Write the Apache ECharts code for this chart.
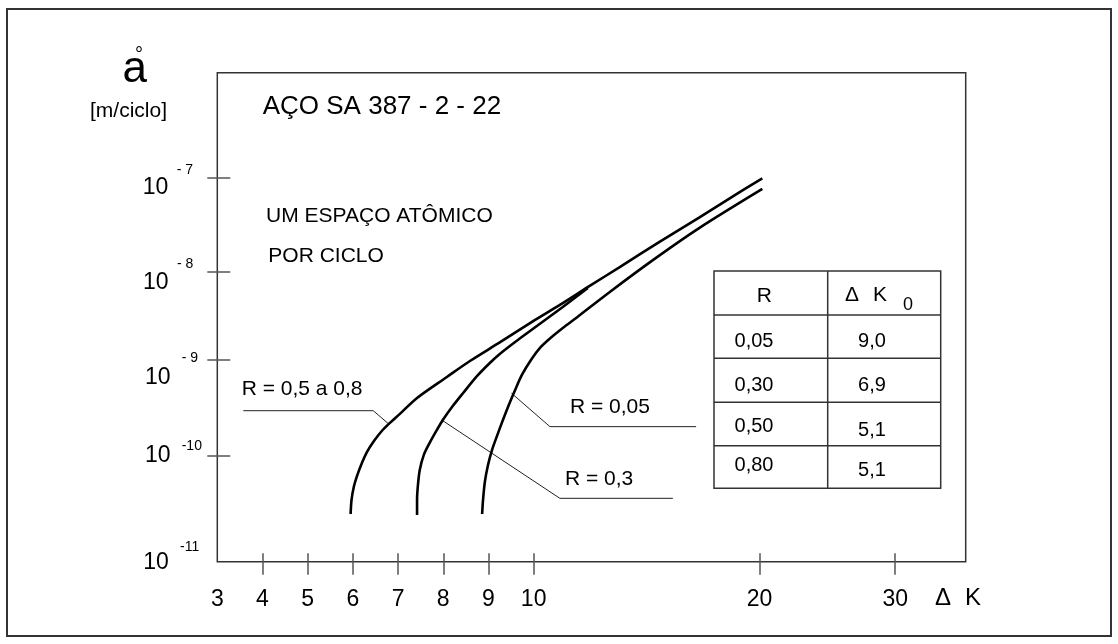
<!DOCTYPE html>
<html><head><meta charset="utf-8">
<script src="https://cdn.jsdelivr.net/npm/echarts@6/dist/echarts.min.js"></script>
<style>html,body{margin:0;padding:0;background:#fff}#c{width:1118px;height:644px}</style>
</head><body><div id="c"></div>
<script>
// ---- axis definitions (hand-drawn, non-uniform scales) ----
const X_TICK_VALUES = [3, 4, 5, 6, 7, 8, 9, 10, 20, 30];
const X_TICK_LABELS = ['3', '4', '5', '6', '7', '8', '9', '10', '20', '30'];
const X_TICK_POS = [0, 1, 2, 3, 4, 5, 6, 7, 12, 15];
const Y_TICK_EXP = [-11, -10, -9, -8, -7];
const Y_TICK_EXP_LABELS = ['-11', '-10', '- 9', '- 8', '- 7'];
const Y_TICK_POS = [0, 1.106, 2.104, 3.025, 4.0];

// ---- curves: ΔK vs da/dN [m/ciclo] ----
const dK_R05_08 = [5.95, 5.97, 6.02, 6.10, 6.20, 6.31, 6.47, 6.64, 6.82, 7.04, 7.42, 8.08, 8.59, 9.25, 9.98, 11.16, 12.48, 13.81, 15.57, 17.34, 19.10, 20.20];
const da_R05_08 = [2.82e-11, 3.82e-11, 5.07e-11, 6.58e-11, 8.53e-11, 1.09e-10, 1.43e-10, 1.81e-10, 2.20e-10, 2.73e-10, 4.01e-10, 6.64e-10, 9.76e-10, 1.58e-9, 2.73e-9, 4.20e-9, 6.89e-9, 1.12e-8, 2.08e-8, 3.80e-8, 7.05e-8, 9.95e-8];

const dK_R03 = [7.42, 7.42, 7.44, 7.48, 7.57, 7.71, 7.86, 7.99, 8.21, 8.44, 8.75, 9.03, 9.25, 9.59, 9.98, 11.29, 12.40];
const da_R03 = [2.76e-11, 3.82e-11, 5.30e-11, 7.33e-11, 1.02e-10, 1.39e-10, 1.86e-10, 2.36e-10, 3.30e-10, 4.52e-10, 6.81e-10, 9.30e-10, 1.17e-9, 1.60e-9, 2.24e-9, 3.98e-9, 6.53e-9];

const dK_R005 = [8.86, 8.88, 8.92, 8.99, 9.08, 9.19, 9.32, 9.45, 9.59, 9.74, 9.94, 10.28, 10.72, 11.29, 11.91, 13.37, 15.26, 17.34, 20.20];
const da_R005 = [2.82e-11, 3.82e-11, 5.65e-11, 8.17e-11, 1.15e-10, 1.61e-10, 2.36e-10, 3.39e-10, 4.86e-10, 6.97e-10, 1.0e-9, 1.37e-9, 1.75e-9, 2.30e-9, 3.03e-9, 5.89e-9, 1.32e-8, 2.94e-8, 7.67e-8];

// leader lines for curve labels
const leadA_dK = [3.575, 6.45, 6.79];
const leadA_da = [2.95e-10, 2.95e-10, 2.15e-10];
const leadC_dK = [9.51, 10.72, 17.19];
const leadC_da = [4.49e-10, 2.01e-10, 2.01e-10];
const leadB_dK = [7.965, 11.16, 16.16];
const leadB_da = [2.36e-10, 3.96e-11, 3.96e-11];

// table
const TABLE_R = ['0,05', '0,30', '0,50', '0,80'];
const TABLE_DK0 = ['9,0', '6,9', '5,1', '5,1'];

// ---- scale helpers ----
function interp(v, xs, ys) {
  let i = 0;
  while (i < xs.length - 2 && v > xs[i + 1]) i++;
  return ys[i] + (v - xs[i]) * (ys[i + 1] - ys[i]) / (xs[i + 1] - xs[i]);
}
const xPos = k => interp(k, X_TICK_VALUES, X_TICK_POS);
const yPos = v => interp(Math.log10(v), Y_TICK_EXP, Y_TICK_POS);
const pts = (ks, vs) => ks.map((k, i) => [xPos(k), yPos(vs[i])]);

const FONT = "'Liberation Sans', Arial, Helvetica, sans-serif";
const chart = echarts.init(document.getElementById('c'), null, {renderer: 'canvas'});

const xBase = {type: 'value', min: 0, max: 16.56, position: 'bottom', splitLine: {show: false},
  axisLine: {show: false, onZero: false}};
const yBase = {type: 'value', min: 0, max: 5.1, position: 'left', splitLine: {show: false},
  axisLine: {show: false, onZero: false}};
const tickStyle = {color: '#555', width: 1.5};

const curveStyle = {color: '#000', width: 2.6};
const leadStyle = {color: '#222', width: 1};

function curve(data, smooth) {
  return {type: 'line', data, showSymbol: false, smooth: smooth, lineStyle: smooth ? curveStyle : leadStyle,
    silent: true, animation: false, z: smooth ? 3 : 2};
}

const T = (text, x, y, size, align) => ({type: 'text', silent: true,
  style: {text, x, y, font: size + 'px ' + FONT, fill: '#000', textAlign: align || 'left', textVerticalAlign: 'middle'}});

const graphics = [
  {type: 'rect', shape: {x: 7, y: 9, width: 1104, height: 627}, style: {fill: 'none', stroke: '#333', lineWidth: 2}, silent: true},
  // y axis name
  T('a', 147, 70, 44, 'right'),
  T('°', 139, 55, 20, 'center'),
  T('[m/ciclo]', 167, 111, 21, 'right'),
  // texts inside plot
  T('AÇO SA 387 - 2 - 22', 262.7, 107, 26),
  T('UM ESPAÇO ATÔMICO', 266, 216, 21),
  T('POR CICLO', 268.3, 256, 21),
  T('R = 0,5 a 0,8', 241.7, 389, 21),
  T('R = 0,05', 570, 407.5, 21),
  T('R = 0,3', 565, 479, 21),
  T('Δ', 935, 598, 24),
  T('K', 965, 598, 24)
];
// y tick labels (10 with exponent)
const yLabelOff = [[143.3, 563, 180, 547.5], [145, 456, 181.7, 446], [145, 378, 181.7, 358], [143, 283, 177, 264], [142.7, 187.7, 176.7, 170]];
Y_TICK_EXP_LABELS.forEach((e, i) => {
  const o = yLabelOff[i];
  graphics.push(T('10', o[0], o[1], 23));
  graphics.push(T(e, o[2], o[3], 14));
});
// table
const tb = {x0: 714, x1: 940.7, xm: 827.7, y: [271, 315, 358.3, 402.3, 445.7, 488.3]};
graphics.push({type: 'rect', shape: {x: tb.x0, y: tb.y[0], width: tb.x1 - tb.x0, height: tb.y[5] - tb.y[0]},
  style: {fill: '#fff', stroke: '#333', lineWidth: 1.5}, silent: true, z: 10});
graphics.push({type: 'line', shape: {x1: tb.xm, y1: tb.y[0], x2: tb.xm, y2: tb.y[5]}, style: {stroke: '#333', lineWidth: 1.5}, silent: true, z: 11});
for (let i = 1; i < 5; i++) {
  graphics.push({type: 'line', shape: {x1: tb.x0, y1: tb.y[i], x2: tb.x1, y2: tb.y[i]}, style: {stroke: '#333', lineWidth: 1.5}, silent: true, z: 11});
}
const tz = o => Object.assign(o, {z: 12});
graphics.push(tz(T('R', 764.3, 296.7, 21, 'center')));
graphics.push(tz(T('Δ', 845, 295.7, 21)));
graphics.push(tz(T('K', 873, 295.7, 21)));
graphics.push(tz(T('0', 908, 305, 18, 'center')));
const rowY1 = [341.7, 385, 426.7, 465];
const rowY2 = [341.7, 385, 430, 470];
TABLE_R.forEach((r, i) => {
  graphics.push(tz(T(r, 754, rowY1[i], 20, 'center')));
  graphics.push(tz(T(TABLE_DK0[i], 872, rowY2[i], 20, 'center')));
});

chart.setOption({
  animation: false,
  backgroundColor: '#fff',
  grid: {left: 217.3, top: 72.7, width: 748.4, height: 489, show: true, borderColor: '#333', borderWidth: 1.5, containLabel: false},
  xAxis: [
    Object.assign({}, xBase, {
      axisTick: {show: true, inside: false, length: 13, lineStyle: tickStyle, customValues: X_TICK_POS.slice(1)},
      axisLabel: {show: true, customValues: X_TICK_POS, margin: 26, fontSize: 23, fontFamily: FONT, color: '#000',
        formatter: v => { const i = X_TICK_POS.findIndex(p => Math.abs(p - v) < 1e-6); return i >= 0 ? X_TICK_LABELS[i] : ''; }}
    }),
    Object.assign({}, xBase, {
      axisTick: {show: true, inside: true, length: 8.5, lineStyle: tickStyle, customValues: X_TICK_POS.slice(1)},
      axisLabel: {show: false}
    })
  ],
  yAxis: [
    Object.assign({}, yBase, {
      axisTick: {show: true, inside: false, length: 10, lineStyle: tickStyle, customValues: Y_TICK_POS.slice(1)},
      axisLabel: {show: false}
    }),
    Object.assign({}, yBase, {
      axisTick: {show: true, inside: true, length: 13, lineStyle: tickStyle, customValues: Y_TICK_POS.slice(1)},
      axisLabel: {show: false}
    })
  ],
  series: [
    curve(pts(dK_R05_08, da_R05_08), 0.3),
    curve(pts(dK_R03, da_R03), 0.3),
    curve(pts(dK_R005, da_R005), 0.3),
    curve(pts(leadA_dK, leadA_da), false),
    curve(pts(leadC_dK, leadC_da), false),
    curve(pts(leadB_dK, leadB_da), false)
  ],
  graphic: graphics
});
</script></body></html>
